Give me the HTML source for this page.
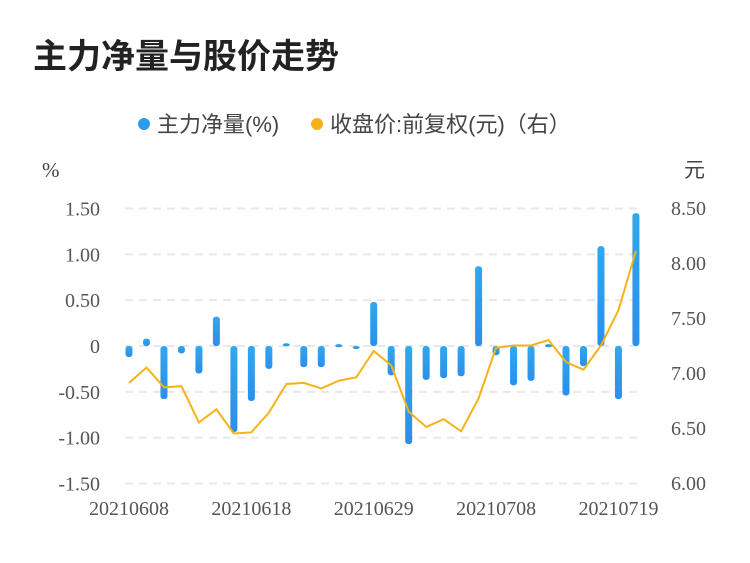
<!DOCTYPE html>
<html><head><meta charset="utf-8"><style>
body{margin:0;background:#fff;font-family:"Liberation Sans","Noto Sans CJK SC",sans-serif;}
</style></head><body>
<svg width="750" height="558" xmlns="http://www.w3.org/2000/svg">
<defs><linearGradient id="g" x1="0" y1="0" x2="0" y2="1"><stop offset="0" stop-color="#2fa8ee"/><stop offset="1" stop-color="#2b8fec"/></linearGradient></defs>
<text x="33" y="68" font-size="34" font-weight="bold" fill="#222" font-family="Liberation Sans, Noto Sans CJK SC, sans-serif">主力净量与股价走势</text>
<g font-size="22" fill="#444">
<circle cx="144" cy="124" r="6" fill="#2b9bf0"/>
<text x="157" y="132">主力净量(%)</text>
<circle cx="317" cy="124" r="6" fill="#f6b318"/>
<text x="330" y="132">收盘价:前复权(元)（右）</text>
</g>
<text x="42" y="177" font-size="21" fill="#444" font-family="Liberation Serif, serif">%</text>
<text x="684" y="177" font-size="21" fill="#444">元</text>
<g id="grid"></g><g id="axes"></g><g id="bars"></g><g id="line"></g>
</svg>
<script>
const dates=["20210608","20210609","20210610","20210611","20210615","20210616","20210617","20210618","20210621","20210622","20210623","20210624","20210625","20210628","20210629","20210630","20210701","20210702","20210705","20210706","20210707","20210708","20210709","20210712","20210713","20210714","20210715","20210716","20210719","20210720"];
const netValues=[-0.12,0.08,-0.58,-0.08,-0.30,0.32,-0.94,-0.60,-0.25,0.03,-0.23,-0.23,0.02,-0.03,0.48,-0.32,-1.07,-0.37,-0.35,-0.33,0.87,-0.10,-0.43,-0.38,0.02,-0.54,-0.22,1.09,-0.58,1.45];
const prices=[6.91,7.05,6.87,6.88,6.55,6.67,6.45,6.46,6.64,6.90,6.91,6.86,6.93,6.96,7.20,7.07,6.65,6.51,6.58,6.47,6.77,7.23,7.25,7.25,7.30,7.10,7.03,7.25,7.57,8.11];
const leftTicks=[1.5,1.0,0.5,0,-0.5,-1.0,-1.5];
const leftTickLabels=["1.50","1.00","0.50","0","-0.50","-1.00","-1.50"];
const rightTicks=[8.5,8.0,7.5,7.0,6.5,6.0];
const rightTickLabels=["8.50","8.00","7.50","7.00","6.50","6.00"];
const xLabelIdx=[0,7,14,21,28];
const NS="http://www.w3.org/2000/svg";
const yL=v=>346-v*91.67;
const yR=v=>208+(8.5-v)*110;
const xS=i=>129+i*17.48;
function mk(p,t,a){const e=document.createElementNS(NS,t);for(const k in a)e.setAttribute(k,a[k]);p.appendChild(e);return e;}
const grid=document.getElementById('grid'),axes=document.getElementById('axes'),bars=document.getElementById('bars'),line=document.getElementById('line');
leftTicks.forEach((v,i)=>{
 const l=mk(grid,'line',{x1:125,x2:640,y1:yL(v),y2:yL(v),stroke:'#e8e8e8','stroke-width':2,'stroke-dasharray':'8,6'});
 
 
 const t=mk(axes,'text',{x:100,y:yL(v)+7,'text-anchor':'end','font-size':20,fill:'#555','font-family':'Liberation Serif, serif'});
 t.textContent=leftTickLabels[i];
 
 
});
rightTicks.forEach((v,i)=>{
 const t=mk(axes,'text',{x:706,y:yR(v)+7,'text-anchor':'end','font-size':20,fill:'#555','font-family':'Liberation Serif, serif'});
 t.textContent=rightTickLabels[i];
 
 
});
xLabelIdx.forEach(i=>{
 const t=mk(axes,'text',{x:xS(i),y:515,'text-anchor':'middle','font-size':20,fill:'#555','font-family':'Liberation Serif, serif'});
 t.textContent=dates[i];
 
 
});
netValues.forEach((v,i)=>{
 const y0=yL(0),y1=yL(v);
 const top=Math.min(y0,y1),h=Math.max(Math.abs(y1-y0),3);
 const r=mk(bars,'rect',{x:xS(i)-3.5,y:top,width:7,height:h,rx:3,fill:'url(#g)'});
 
 
});
const pl=mk(line,'polyline',{points:prices.map((p,i)=>xS(i)+','+yR(p)).join(' '),fill:'none',stroke:'#f6b318','stroke-width':2});


</script>
</body></html>
